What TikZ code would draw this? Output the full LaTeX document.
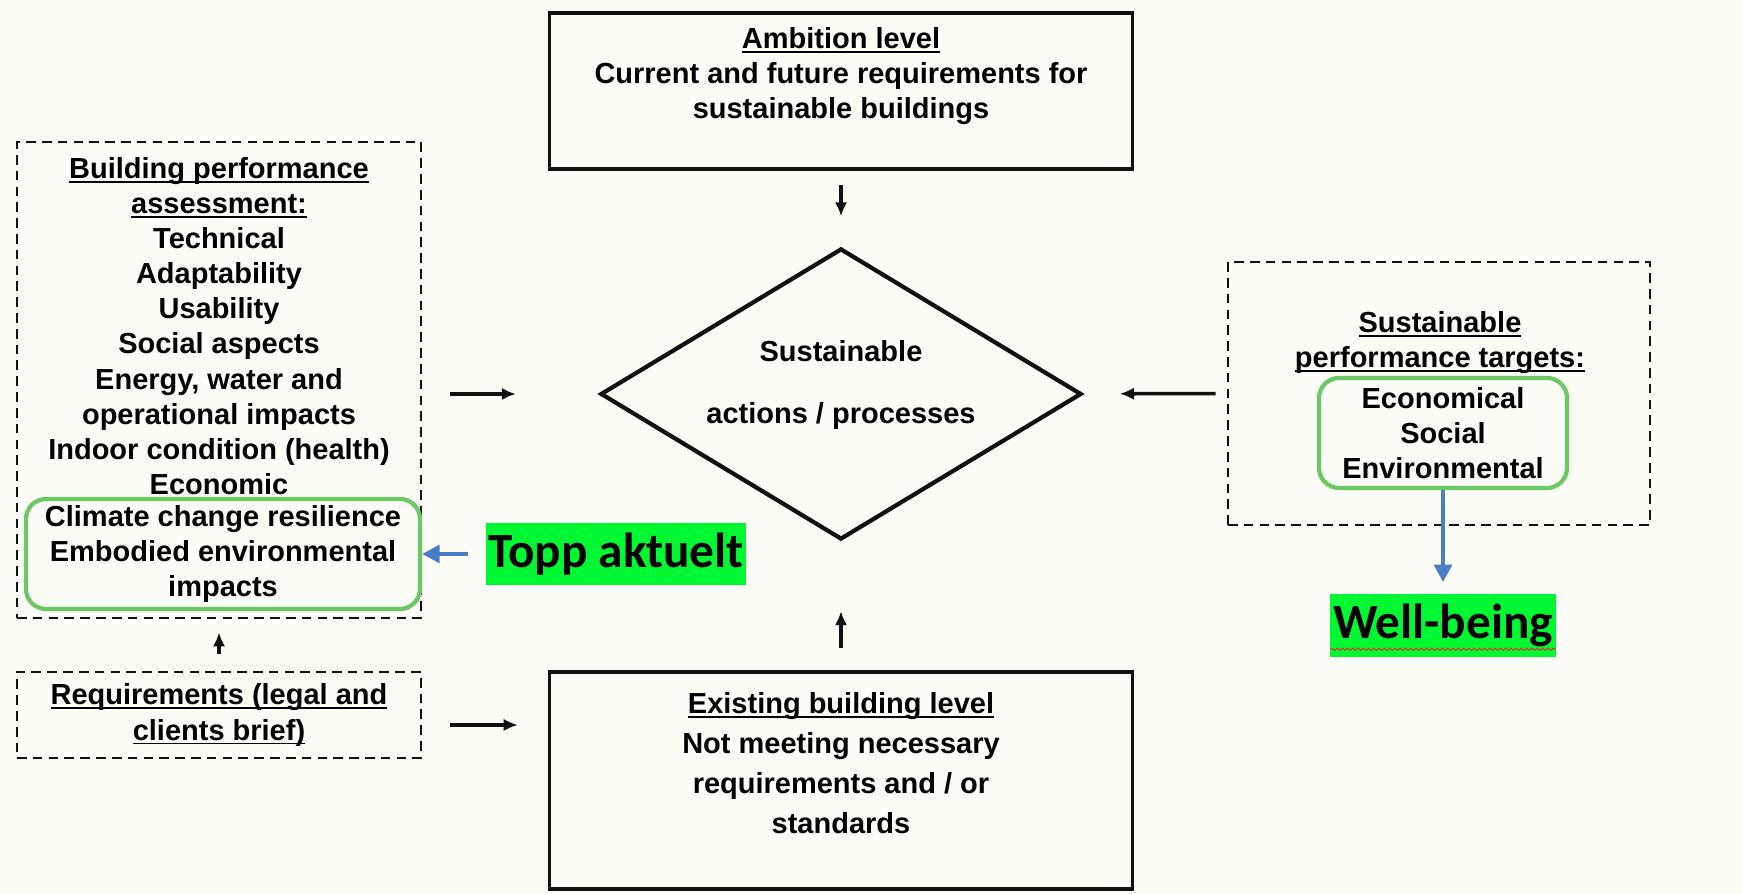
\documentclass[tikz,border=0pt]{standalone}
\usepackage{fontspec}
\setmainfont{Liberation Sans}
\newfontfamily\carlitofont{Carlito}
\usetikzlibrary{positioning, shapes.geometric, arrows.meta, decorations.pathmorphing}
\definecolor{PaperCream}{HTML}{FDFDF7}
\definecolor{InkBlack}{HTML}{111111}
\definecolor{FrameGreen}{HTML}{6CC862}
\definecolor{MarkerGreen}{HTML}{00F832}
\definecolor{PointerBlue}{HTML}{4A7DC9}
\definecolor{SquiggleRed}{HTML}{E0322A}
\newcommand{\hdline}[1]{\leavevmode\begingroup\setbox0\hbox{#1}\rlap{\rule[-2.5pt]{\wd0}{1.1pt}}\box0\endgroup}

\begin{document}
\begin{tikzpicture}[
    font=\bfseries\fontsize{16.5}{20}\selectfont,
    solidbox/.style={draw=InkBlack, line width=2pt, minimum width=11.66cm, inner sep=0pt},
    dashbox/.style={draw=InkBlack, line width=1.6pt, dash pattern=on 5.5pt off 3.5pt, minimum width=8.08cm, inner sep=0pt, align=center},
    greenbox/.style={draw=FrameGreen, line width=2.4pt, rounded corners=0.4cm, minimum height=2.2cm, inner sep=0pt, align=center},
    hilite/.style={fill=MarkerGreen, inner xsep=1.5pt, inner ysep=0pt, minimum height=1.25cm, font=\carlitofont\bfseries\fontsize{28}{30}\selectfont},
    flow/.style={draw=InkBlack, line width=2pt, -{Latex[length=8pt, width=7pt]}},
    pointer/.style={draw=PointerBlue, line width=2.5pt, -{Triangle[length=10pt, width=10pt]}}
]
    \fill[PaperCream] (0,0) rectangle (34.84,17.88);
    \useasboundingbox (0,0) rectangle (34.84,17.88);

    % centre column
    \node[solidbox, minimum height=3.12cm] (ambition) at (16.82,16.06) {};
    \node[align=center] (ambitiontxt) at (16.82,16.36) {\hdline{Ambition level}\\ Current and future requirements for\\ sustainable buildings};

    \node[draw=InkBlack, line width=2.4pt, diamond, minimum width=9.62cm, minimum height=5.82cm, inner sep=0pt] (diamond) at (16.82,10.00) {};
    \node[align=center] (diamondtxt) at (16.82,10.18) {Sustainable\\[15pt] actions / processes};

    \node[solidbox, minimum height=4.34cm] (existing) at (16.82,2.27) {};
    \node[align=center, font=\bfseries\fontsize{16.5}{22.8}\selectfont] (existingtxt) at (16.82,2.62) {\hdline{Existing building level}\\ Not meeting necessary\\ requirements and / or\\ standards};

    % left column
    \node[dashbox, minimum height=9.52cm] (assess) at (4.38,10.28) {};
    \node[align=center] (assesstxt) at (4.38,11.36) {\hdline{Building performance}\\ \hdline{assessment:}\\ Technical\\ Adaptability\\ Usability\\ Social aspects\\ Energy, water and\\ operational impacts\\ Indoor condition (health)\\ Economic};
    \node[greenbox, minimum width=7.88cm] (assessgreen) at (4.46,6.80) {Climate change resilience\\ Embodied environmental\\ impacts};

    \node[dashbox, minimum height=1.72cm] (requirements) at (4.38,3.58) {\hdline{Requirements (legal and}\\ \hdline{clients brief)}};

    \node[hilite] (topp) at (12.32,6.80) {Topp aktuelt};

    % right column
    \node[dashbox, minimum width=8.44cm, minimum height=5.26cm] (targets) at (28.78,10.01) {};
    \node[align=center] (targetstxt) at (28.80,11.02) {\hdline{Sustainable}\\ \hdline{performance targets:}};
    \node[greenbox, minimum width=4.96cm] (targetsgreen) at (28.86,9.22) {Economical\\ Social\\ Environmental};

    \node[hilite, below=2.08cm of targetsgreen] (wellbeing) {Well-being};
    \draw[SquiggleRed, line width=0.6pt, decorate, decoration={snake, amplitude=0.6pt, segment length=3pt}]
        ([yshift=0.16cm]wellbeing.south west) -- ([yshift=0.16cm]wellbeing.south east);

    % connectors
    \draw[flow, shorten <=0.28cm, shorten >=0.6cm] (ambition) -- (diamond);
    \draw[flow, shorten <=0.44cm, shorten >=1.39cm] (existing) -- (diamond);
    \draw[flow, shorten <=0.56cm, shorten >=1.65cm] (assess.east |- diamond.west) -- (diamond.west);
    \draw[flow, shorten <=0.22cm, shorten >=0.73cm] (targets) -- (diamond);
    \draw[flow, shorten <=0.34cm, shorten >=0.26cm] (requirements) -- (assess);
    \draw[flow, shorten <=0.56cm, shorten >=0.6cm] ([yshift=-0.2cm]requirements.east) -- ([yshift=-0.2cm]requirements.east -| existing.west);
    \draw[pointer, shorten <=0.34cm] (topp) -- (assessgreen);
    \draw[pointer, shorten >=0.24cm] (targetsgreen) -- (wellbeing);
\end{tikzpicture}
\end{document}
